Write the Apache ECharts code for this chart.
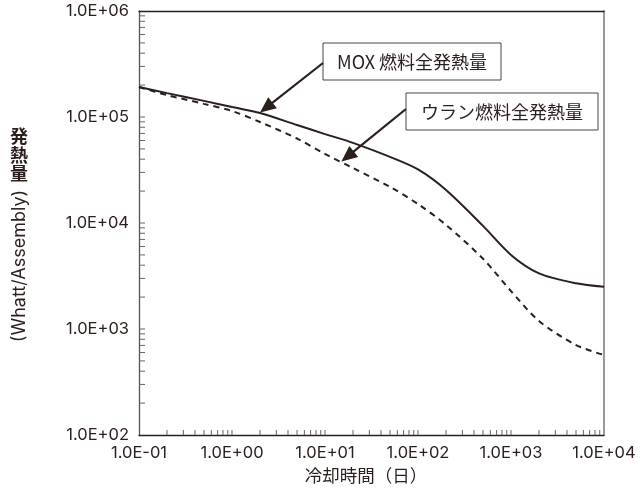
<!DOCTYPE html>
<html>
<head>
<meta charset="utf-8">
<script src="https://cdn.jsdelivr.net/npm/echarts@6/dist/echarts.min.js"></script>
<style>
html,body{margin:0;padding:0;background:#fff;}
#chart{width:640px;height:490px;}
</style>
</head>
<body>
<div id="chart"></div>
<script>
// ---- data ----
const coolingDays = [0.1, 0.2, 0.5, 1, 2, 5, 10, 20, 50, 100, 200, 500, 1000, 2000, 5000, 10000];
const moxHeat = [192000, 168000, 142000, 124000, 109000, 84000, 69000, 57000, 42000, 32000, 20500, 9400, 5000, 3350, 2700, 2500];
const uraniumHeat = [192000, 161000, 133000, 114000, 89700, 62700, 44800, 33000, 21900, 15100, 9600, 4600, 2280, 1190, 706, 569];
const xTickValues = [0.1, 1, 10, 100, 1000, 10000];
const xTickLabels = ['1.0E-01', '1.0E+00', '1.0E+01', '1.0E+02', '1.0E+03', '1.0E+04'];
const yTickValues = [100, 1000, 10000, 100000, 1000000];
const yTickLabels = ['1.0E+02', '1.0E+03', '1.0E+04', '1.0E+05', '1.0E+06'];
const moxLabel = 'MOX 燃料全発熱量';
const uraniumLabel = 'ウラン燃料全発熱量';
const moxAnchor = [2, 110000];
const uraniumAnchor = [15, 38000];
const xName = '冷却時間（日）';
const yNameA = '発熱量';
const yNameB = '(Whatt/Assembly)';

const INK = '#2a1f1d';
const LATIN = 'Inter, "Noto Sans", sans-serif';
const CJK = '"Noto Sans CJK JP", sans-serif';

function minorTicks(decades) {
  const out = [];
  for (let i = 0; i < decades.length - 1; i++) {
    for (let m = 1; m <= 9; m++) out.push(m * decades[i]);
  }
  return out;
}
function labelFor(values, labels) {
  return function (v) {
    for (let i = 0; i < values.length; i++) {
      if (Math.abs(Math.log10(v) - Math.log10(values[i])) < 1e-6) return labels[i];
    }
    return '';
  };
}

const xMin = xTickValues[0], xMax = xTickValues[xTickValues.length - 1];
const yMin = yTickValues[0], yMax = yTickValues[yTickValues.length - 1];

const chart = echarts.init(document.getElementById('chart'), null, {renderer: 'canvas'});

const option = {
  animation: false,
  backgroundColor: '#fff',
  grid: {left: 139, right: 36, top: 11, bottom: 55, containLabel: false},
  xAxis: [{
    type: 'log', logBase: 10, min: xMin, max: xMax,
    axisLine: {show: true, lineStyle: {color: INK, width: 1.3}},
    axisTick: {show: false},
    splitLine: {show: false},
    axisLabel: {
      margin: 10, color: INK, fontFamily: LATIN, fontSize: 16.5,
      formatter: labelFor(xTickValues, xTickLabels),
      showMinLabel: true, showMaxLabel: true
    }
  }, {
    type: 'log', logBase: 10, min: xMin, max: xMax, position: 'top',
    axisLine: {show: true, onZero: false, lineStyle: {color: INK, width: 1.3}},
    axisTick: {show: false}, axisLabel: {show: false}, splitLine: {show: false}
  }],
  yAxis: [{
    type: 'log', logBase: 10, min: yMin, max: yMax,
    axisLine: {show: true, lineStyle: {color: '#5a5252', width: 1.3}},
    axisTick: {show: false},
    splitLine: {show: false},
    axisLabel: {
      margin: 10, color: INK, fontFamily: LATIN, fontSize: 16.5,
      formatter: labelFor(yTickValues, yTickLabels),
      showMinLabel: true, showMaxLabel: true
    }
  }, {
    type: 'log', logBase: 10, min: yMin, max: yMax, position: 'right',
    axisLine: {show: true, onZero: false, lineStyle: {color: '#9c9898', width: 2}},
    axisTick: {show: false}, axisLabel: {show: false}, splitLine: {show: false}
  }],
  series: [{
    name: moxLabel, type: 'line', xAxisIndex: 0, yAxisIndex: 0,
    data: coolingDays.map((d, i) => [d, moxHeat[i]]),
    showSymbol: false, smooth: 0.3,
    lineStyle: {color: INK, width: 2, type: 'solid'},
    z: 5
  }, {
    name: uraniumLabel, type: 'line', xAxisIndex: 0, yAxisIndex: 0,
    data: coolingDays.map((d, i) => [d, uraniumHeat[i]]),
    showSymbol: false, smooth: 0.3,
    lineStyle: {color: INK, width: 2, type: [6, 5]},
    z: 5
  }, {
    type: 'custom', xAxisIndex: 0, yAxisIndex: 0, silent: true, clip: false,
    data: minorTicks(xTickValues).slice(1).map(v => [v, yMin]),
    renderItem: function (params, api) {
      const p = api.coord([api.value(0), api.value(1)]);
      return {type: 'line', shape: {x1: p[0], y1: p[1], x2: p[0], y2: p[1] - 5},
        style: {stroke: '#6a6262', lineWidth: 1}};
    }
  }, {
    type: 'custom', xAxisIndex: 0, yAxisIndex: 0, silent: true, clip: false,
    data: minorTicks(yTickValues).slice(1).map(v => [xMin, v]),
    renderItem: function (params, api) {
      const p = api.coord([api.value(0), api.value(1)]);
      return {type: 'line', shape: {x1: p[0], y1: p[1], x2: p[0] + 6, y2: p[1]},
        style: {stroke: '#6a6262', lineWidth: 1}};
    }
  }]
};
chart.setOption(option);

function arrow(from, to) {
  const dx = to[0] - from[0], dy = to[1] - from[1];
  const len = Math.sqrt(dx * dx + dy * dy);
  const ux = dx / len, uy = dy / len;
  const head = 16, half = 7;
  const bx = to[0] - ux * head, by = to[1] - uy * head;
  return [{
    type: 'line', silent: true,
    shape: {x1: from[0], y1: from[1], x2: bx + ux * 2, y2: by + uy * 2},
    style: {stroke: INK, lineWidth: 2.2}, z: 20
  }, {
    type: 'polygon', silent: true,
    shape: {points: [to, [bx - uy * half, by + ux * half], [bx + uy * half, by - ux * half]]},
    style: {fill: INK}, z: 20
  }];
}
function box(x, y, w, h, text) {
  return [{
    type: 'rect', silent: true, shape: {x: x, y: y, width: w, height: h},
    style: {fill: '#fff', stroke: '#4a4444', lineWidth: 1}, z: 20
  }, {
    type: 'text', silent: true, x: x + w / 2, y: y + h / 2 + 1,
    style: {text: text, fill: INK, font: '18px ' + CJK, align: 'center', verticalAlign: 'middle'}, z: 21
  }];
}

const moxTip = chart.convertToPixel({xAxisIndex: 0, yAxisIndex: 0}, moxAnchor);
const uTip = chart.convertToPixel({xAxisIndex: 0, yAxisIndex: 0}, uraniumAnchor);

const graphics = [].concat(
  box(323, 43, 178, 37, moxLabel),
  arrow([323, 63], moxTip),
  box(406, 93, 192, 37, uraniumLabel),
  arrow([406, 109], uTip),
  [{
    type: 'text', silent: true, x: 366, y: 475,
    style: {text: xName, fill: INK, font: '17.5px ' + CJK, align: 'center', verticalAlign: 'middle'}
  }, {
    type: 'text', silent: true, x: 19, y: 155,
    style: {text: yNameA.split('').join('\n'), fill: INK, font: 'bold 18px ' + CJK,
      lineHeight: 18.5, align: 'center', verticalAlign: 'middle'}
  }, {
    type: 'text', silent: true, x: 20, y: 266, rotation: Math.PI / 2,
    style: {text: yNameB, fill: INK, font: '18px ' + LATIN, align: 'center', verticalAlign: 'middle'}
  }]
);
chart.setOption({graphic: graphics});
</script>
</body>
</html>
